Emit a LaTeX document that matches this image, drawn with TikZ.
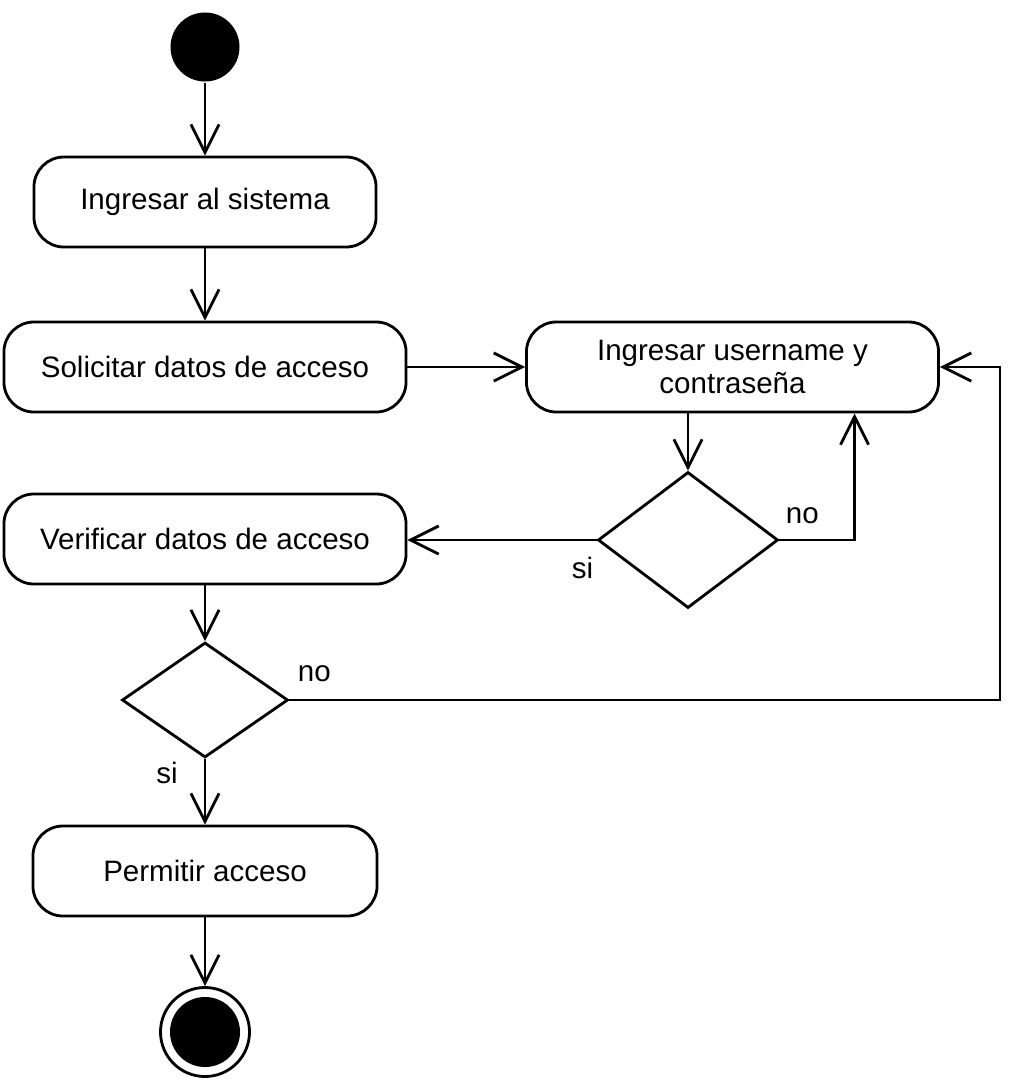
\documentclass[tikz,border=0pt]{standalone}
\usepackage{fontspec}
\setmainfont{Liberation Sans}
\usetikzlibrary{shapes.geometric, arrows.meta, positioning}

\begin{document}
\begin{tikzpicture}[
    x=0.025cm, y=-0.025cm,
    line width=2pt,
    >={Straight Barb[length=20pt, width=20pt]},
    action/.style={draw, rectangle, rounded corners=0.75cm, minimum height=2.25cm, align=center, font=\fontsize{21}{24}\selectfont},
    decision/.style={draw, diamond, inner sep=0pt},
    flow/.style={->},
    lbl/.style={inner sep=0pt, font=\fontsize{21}{24}\selectfont}
]
\useasboundingbox (0,0) rectangle (1032,1080);

% Start node
\node[circle, fill=black, minimum size=1.725cm, inner sep=0pt] (start) at (205,47) {};

% Actions & decisions
\node[action, minimum width=8.55cm] (ingreso) at (205,202) {Ingresar al sistema};
\node[action, minimum width=10.05cm] (solicitar) at (205,367) {Solicitar datos de acceso};
\node[action, minimum width=10.3cm] (credenciales) at (732.5,367) {Ingresar username y\\contraseña};
\node[decision, minimum width=4.5cm, minimum height=3.4cm] (d1) at (688,540) {};
\node[action, minimum width=10.05cm] (verificar) at (205,539) {Verificar datos de acceso};
\node[decision, minimum width=4.15cm, minimum height=2.875cm] (d2) at (205,700) {};
\node[action, minimum width=8.6cm] (permitir) at (205,871) {Permitir acceso};

% End node
\node[circle, draw, minimum size=2.225cm, inner sep=0pt] (end) at (205,1032) {};
\node[circle, fill=black, minimum size=1.75cm, inner sep=0pt] (endin) at (end) {};

% Guard labels
\node[lbl, above right=0.375cm and 0.125cm of d1.east] (no1) {no};
\node[lbl, below left=0.4cm and 0.05cm of d1.west] (si1) {si};
\node[lbl, above right=0.425cm and 0.175cm of d2.east] (no2) {no};
\node[lbl, below left=0.05cm and 0.65cm of d2.south] (si2) {si};

% Control flow
\draw[flow] (start) -- (ingreso);
\draw[flow] (ingreso) -- (solicitar);
\draw[flow] (solicitar) -- (credenciales);
\draw[flow] (d1.north |- credenciales.south) -- (d1.north);
\draw[flow] (d1.east) -| ([xshift=3.05cm]credenciales.south);
\draw[flow] (d1.west) -- (d1.west -| verificar.east);
\draw[flow] (verificar) -- (d2);
\draw[flow] (d2.east) -| ([xshift=1.5cm]credenciales.east) -- (credenciales.east);
\draw[flow] (d2) -- (permitir);
\draw[flow] (permitir) -- (end);

\end{tikzpicture}
\end{document}
